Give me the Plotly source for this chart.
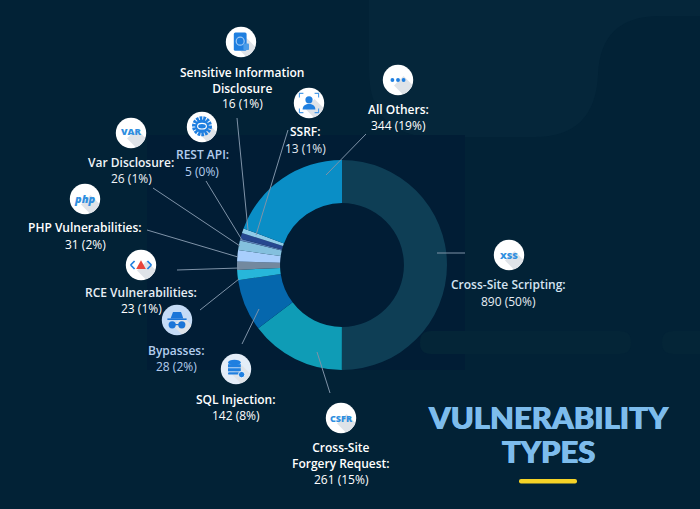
import base64
import plotly.graph_objects as go

W = 700
H = 509

# clockwise from 12 o'clock
names = ["Cross-Site Scripting", "Cross-Site Forgery Request", "SQL Injection", "Bypasses",
         "RCE Vulnerabilities", "PHP Vulnerabilities", "Var Disclosure", "REST API",
         "Sensitive Information Disclosure", "SSRF", "All Others"]
counts = [890, 261, 142, 28, 23, 31, 26, 5, 16, 13, 344]
colors = ["#0e3e55", "#0f9cb6", "#0567ad", "#27b6da", "#73899f", "#a8cefc", "#84c0de",
          "#5b7fb8", "#26478f", "#8fcbe8", "#0a8ec6"]

# text, x, y of name, y of value, colour
name_labels = [
    ("Cross-Site Scripting:", 508, 284, "#d5e4f2"),
    ("Cross-Site<br>Forgery Request:", 341, 455, "#ffffff"),
    ("SQL Injection:", 236, 399, "#ffffff"),
    ("Bypasses:", 177, 350, "#b3cdee"),
    ("RCE Vulnerabilities:", 141, 292, "#e8eef5"),
    ("PHP Vulnerabilities:", 85, 227.5, "#ffffff"),
    ("Var Disclosure:", 131, 162, "#f0f4f8"),
    ("REST API:", 202, 154, "#b3cdee"),
    ("Sensitive Information<br>Disclosure", 242, 80.5, "#ffffff"),
    ("SSRF:", 305, 132, "#ffffff"),
    ("All Others:", 398, 109, "#ffffff"),
]
value_labels = [
    ("890 (50%)", 508, 301, "#e6edf3"),
    ("261 (15%)", 341, 479, "#ffffff"),
    ("142 (8%)", 236, 415, "#ffffff"),
    ("28 (2%)", 177, 366, "#b3cdee"),
    ("23 (1%)", 141, 308, "#ffffff"),
    ("31 (2%)", 85, 244.5, "#ffffff"),
    ("26 (1%)", 131, 179, "#f0f4f8"),
    ("5 (0%)", 202, 171, "#b3cdee"),
    ("16 (1%)", 242, 104, "#ffffff"),
    ("13 (1%)", 305, 148, "#e0e9f2"),
    ("344 (19%)", 398, 126, "#ffffff"),
]

leaders = [
    (437, 253, 465, 253), (330, 393, 317, 352), (242, 344, 259, 309), (200, 310, 239, 279),
    (177, 270, 239, 268), (147, 230, 238, 257), (153, 188, 240, 246), (206, 181, 242, 240),
    (237, 118, 248, 230), (288, 130, 256, 235), (326, 175, 366, 134),
]

badge_text = [("XSS", 509, 255, 9.5, "#2f8fe0"), ("CSFR", 341, 418, 9, "#2f8fe0"),
              ("VAR", 131, 132, 9.5, "#2f8fe0")]


def px(x):
    return x / W


def py(y):
    return 1 - y / H


def icon(glyph, face="#ffffff"):
    svg = ('<svg xmlns="http://www.w3.org/2000/svg" viewBox="0 0 40 40">'
           '<defs><clipPath id="c"><circle cx="20" cy="20" r="19"/></clipPath></defs>'
           f'<circle cx="20" cy="20" r="19" fill="{face}"/>'
           '<path d="M15 27L27 15L60 48L48 60Z" fill="#dfe3e8" clip-path="url(#c)"/>'
           + glyph + '</svg>')
    return "data:image/svg+xml;base64," + base64.b64encode(svg.encode()).decode()


def rounded(x0, y0, x1, y1, r):
    return (f"M{px(x0 + r)},{py(y0)} L{px(x1 - r)},{py(y0)} Q{px(x1)},{py(y0)} {px(x1)},{py(y0 + r)} "
            f"L{px(x1)},{py(y1 - r)} Q{px(x1)},{py(y1)} {px(x1 - r)},{py(y1)} L{px(x0 + r)},{py(y1)} "
            f"Q{px(x0)},{py(y1)} {px(x0)},{py(y1 - r)} L{px(x0)},{py(y0 + r)} Q{px(x0)},{py(y0)} {px(x0 + r)},{py(y0)} Z")


blank = ""
doc = ('<rect x="11" y="8" width="16" height="23" rx="2" fill="#1f7fe0"/>'
       '<circle cx="19" cy="19" r="5" fill="none" stroke="#9cc8f5" stroke-width="1.5"/>'
       '<rect x="23" y="22" width="7" height="8" rx="1" fill="#4d9de8"/>')
dots = ('<circle cx="13" cy="20" r="2.4" fill="#1f7fe0"/><circle cx="20" cy="20" r="2.4" fill="#1f7fe0"/>'
        '<circle cx="27" cy="20" r="2.4" fill="#1f7fe0"/>')
person = ('<circle cx="20" cy="16" r="4.5" fill="#1f7fe0"/>'
          '<path d="M12 28c0-9 16-9 16 0z" fill="#1f7fe0"/>'
          '<path d="M8 13V8h5M27 8h5v5M32 27v5h-5M13 32H8v-5" fill="none" stroke="#4d9de8" stroke-width="1.4"/>')
gear = ('<circle cx="20" cy="19" r="10" fill="none" stroke="#1f7fe0" stroke-width="5" stroke-dasharray="3.2 1.2"/>'
        '<circle cx="20" cy="19" r="8.5" fill="#1f7fe0"/>'
        '<ellipse cx="20" cy="19" rx="5.5" ry="3.5" fill="none" stroke="#ffffff" stroke-width="1.4"/>')
warn = ('<path d="M7 20l5-5M7 20l5 5M33 20l-5-5M33 20l-5 5" stroke="#1f7fe0" stroke-width="2.2"/>'
        '<path d="M20 14l6 11H14z" fill="#e8443a"/>')
spy = ('<path d="M12 18l3-8h10l3 8z" fill="#1b75d8"/><rect x="8" y="18" width="24" height="2" fill="#1b75d8"/>'
       '<circle cx="14" cy="26" r="4.5" fill="#1b75d8"/><circle cx="26" cy="26" r="4.5" fill="#1b75d8"/>'
       '<rect x="14" y="25" width="12" height="1.5" fill="#1b75d8"/>')
db = ('<ellipse cx="18" cy="12" rx="8" ry="3.5" fill="#1f7fe0"/><rect x="10" y="14" width="16" height="4" fill="#1f7fe0"/>'
      '<rect x="10" y="19" width="16" height="4" fill="#1f7fe0"/><rect x="10" y="24" width="16" height="3" rx="1.5" fill="#1f7fe0"/>'
      '<circle cx="27" cy="27" r="4" fill="#1f7fe0" stroke="#ffffff"/>')

icons = [
    (509, 255, blank, "#ffffff"), (341, 418, blank, "#ffffff"), (236, 369, db, "#e4edf8"),
    (177, 320, spy, "#c5dbf6"), (141, 265, warn, "#ffffff"), (85, 199, blank, "#ffffff"),
    (131, 133, blank, "#ffffff"), (202, 127, gear, "#ffffff"), (241, 42, doc, "#ffffff"),
    (309, 103, person, "#ffffff"), (398, 80, dots, "#ffffff"),
]

fig = go.Figure(go.Pie(
    labels=names, values=counts, sort=False, direction="clockwise", rotation=0, hole=0.59,
    marker=dict(colors=colors, line=dict(width=0)), textinfo="none", hoverinfo="label+value+percent",
    domain=dict(x=[px(237), px(447)], y=[py(370), py(160)]), showlegend=False,
))

# faint shape at the top right of the background
top_shape = (f"M{px(369)},{py(0)} L{px(369)},{py(70)} Q{px(369)},{py(137)} {px(436)},{py(137)} "
             f"L{px(535)},{py(137)} Q{px(595)},{py(137)} {px(598)},{py(75)} Q{px(600)},{py(16)} {px(660)},{py(16)} "
             f"L{px(700)},{py(16)} L{px(700)},{py(0)} Z")

shapes = [
    dict(type="path", path=top_shape, fillcolor="#05263a", line_width=0, layer="below"),
    dict(type="rect", x0=px(147), x1=px(465), y0=py(370), y1=py(135), fillcolor="#011d35", line_width=0, layer="below"),
    dict(type="path", path=rounded(420, 331, 631, 354, 11), fillcolor="#042537", line_width=0, layer="below"),
    dict(type="path", path=rounded(662, 331, 720, 354, 11), fillcolor="#042537", line_width=0, layer="below"),
    dict(type="path", path=rounded(519, 479, 577, 483.5, 2), fillcolor="#f5d327", line_width=0, layer="above"),
]
for x0, y0, x1, y1 in leaders:
    shapes.append(dict(type="line", x0=px(x0), y0=py(y0), x1=px(x1), y1=py(y1),
                       line=dict(color="#7f93a8", width=1), layer="above"))

annotations = []
for text, x, y, color in name_labels:
    annotations.append(dict(text=text, x=px(x), y=py(y), xref="paper", yref="paper", showarrow=False,
                            xanchor="center", yanchor="middle", align="center",
                            font=dict(family="Open Sans", size=12, color=color, weight=600)))
for text, x, y, color in value_labels:
    annotations.append(dict(text=text, x=px(x), y=py(y), xref="paper", yref="paper", showarrow=False,
                            xanchor="center", yanchor="middle",
                            font=dict(family="Open Sans", size=12, color=color, weight=500)))
for text, x, y, size, color in badge_text:
    annotations.append(dict(text=text, x=px(x), y=py(y), xref="paper", yref="paper", showarrow=False,
                            xanchor="center", yanchor="middle",
                            font=dict(family="Open Sans", size=size, color=color, weight=800)))
annotations.append(dict(text="<i>php</i>", x=px(85), y=py(198), xref="paper", yref="paper", showarrow=False,
                        xanchor="center", yanchor="middle",
                        font=dict(family="Open Sans", size=11, color="#2f8fe0", weight=800)))
for text, y in [("VULNERABILITY", 417), ("TYPES", 451)]:
    annotations.append(dict(text=text, x=px(548), y=py(y), xref="paper", yref="paper", showarrow=False,
                            xanchor="center", yanchor="middle",
                            font=dict(family="Lato", size=31, color="#7dbcec", weight=900,
                                      shadow="0.5px 0 0 #7dbcec, -0.5px 0 0 #7dbcec")))

images = []
for x, y, glyph, face in icons:
    images.append(dict(source=icon(glyph, face), x=px(x), y=py(y), sizex=32 / W, sizey=32 / H, xref="paper",
                       yref="paper", xanchor="center", yanchor="middle", layer="above"))

fig.update_layout(width=W, height=H, margin=dict(l=0, r=0, t=0, b=0), paper_bgcolor="#022236",
                  plot_bgcolor="#022236", shapes=shapes, annotations=annotations, images=images)
fig.write_html("out.html", config=dict(displayModeBar=False), post_script="document.body.style.margin='0';")
